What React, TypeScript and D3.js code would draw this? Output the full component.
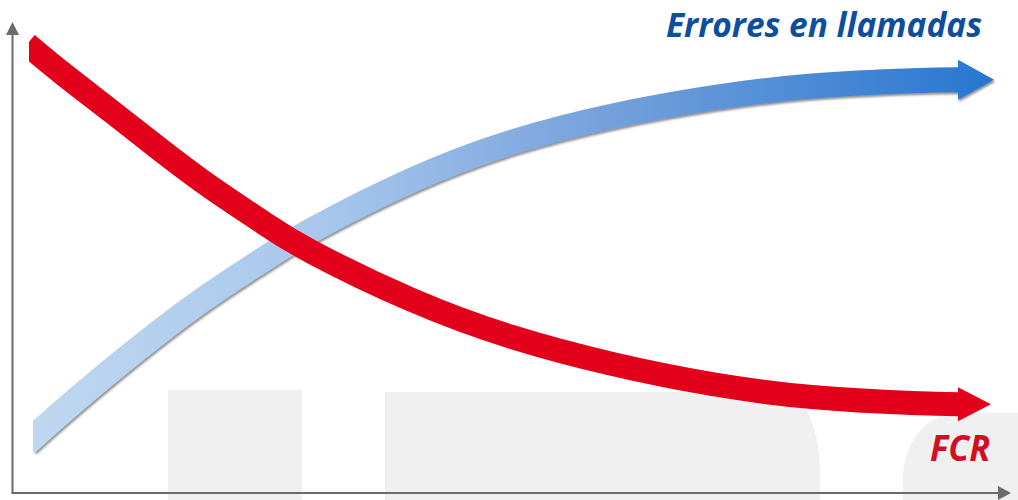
import * as d3 from "d3";

// time axis samples (0..100) and the two trends (0..100)
const steps = [1.5, 5, 10, 15, 20, 25, 30, 40, 50, 60, 70, 80, 90, 94.7];
const fcrValues = [93.5, 87.5, 79.4, 71.25, 63.5, 56.5, 50.2, 40.2, 32.5, 26.9, 22.7, 20.0, 18.75, 18.5];
const errorValues = [10.4, 16.9, 25.7, 34.0, 41.6, 48.5, 54.8, 65.2, 73.1, 78.5, 82.3, 84.8, 85.9, 86.1];
const seriesLabels = ["Errores en llamadas", "FCR"];

const W = 1018, H = 500;

export default function App() {
    const x = d3.scaleLinear().domain([0, 100]).range([12, 1012]);
    const y = d3.scaleLinear().domain([0, 100]).range([493, 13]);

    const line = d3.line<number>()
        .x((d, i) => x(steps[i]))
        .y(d => y(d))
        .curve(d3.curveNatural);

    // arrow heads sit at the last sample of each series
    const head = (vals: number[], len: number, half: number) => {
        const bx = x(steps[steps.length - 1]);
        const by = y(vals[vals.length - 1]);
        return `M${bx - 1},${by - half} L${bx + len},${by} L${bx - 1},${by + half} Z`;
    };

    const axisColor = "#6b6b6b";
    const redColor = "#e2001a";

    return (
        <svg width={W} height={H} style={{ position: "absolute", left: 0, top: 0 }}
             fontFamily="'Open Sans', sans-serif">
            <defs>
                <linearGradient id="blueGrad" gradientUnits="userSpaceOnUse" x1={33} y1={0} x2={995} y2={0}>
                    <stop offset="0" stopColor="#bfd7f0" />
                    <stop offset="0.3" stopColor="#a9c7ec" />
                    <stop offset="0.6" stopColor="#74a0db" />
                    <stop offset="1" stopColor="#2776d0" />
                </linearGradient>
                <filter id="shadow" x="-5%" y="-5%" width="110%" height="120%">
                    <feDropShadow dx="1.2" dy="2" stdDeviation="0.8" floodColor="#444" floodOpacity="0.6" />
                </filter>
                <clipPath id="clipRed"><rect x={29} y={0} width={W} height={H} /></clipPath>
                <clipPath id="clipBlue"><rect x={33} y={0} width={W} height={H} /></clipPath>
            </defs>

            {/* faint watermark blocks */}
            <g fill="#f0f0f0">
                <rect x={168} y={390} width={134} height={110} />
                <path d="M385,392 H785 A38 80 0 0 1 820 470 V500 H385 Z" />
                <path d="M903,500 V478 A55 65 0 0 1 958 413 H1018 V500 Z" />
            </g>

            {/* axes */}
            <line x1={12.5} y1={34} x2={12.5} y2={493} stroke={axisColor} strokeWidth={2} />
            <path d="M6,35 L12.5,22 L19,35 Z" fill={axisColor} />
            <line x1={11.5} y1={493} x2={999} y2={493} stroke={axisColor} strokeWidth={2} />
            <path d="M998,486 L1011,493 L998,500 Z" fill={axisColor} />

            {/* rising trend */}
            <g filter="url(#shadow)">
                <path d={line(errorValues) ?? ""} fill="none" stroke="url(#blueGrad)" strokeWidth={25}
                      clipPath="url(#clipBlue)" />
                <path d={head(errorValues, 35, 20)} fill="url(#blueGrad)" />
            </g>

            {/* falling trend */}
            <g>
                <path d={line(fcrValues) ?? ""} fill="none" stroke={redColor} strokeWidth={24}
                      clipPath="url(#clipRed)" />
                <path d={head(fcrValues, 32, 17)} fill={redColor} />
            </g>

            <text x={666} y={37} fontSize={34} fontWeight={700} fontStyle="italic" fill="#0d4f9e"
                  textLength={316} lengthAdjust="spacingAndGlyphs">{seriesLabels[0]}</text>
            <text x={930} y={461} fontSize={35} fontWeight={700} fontStyle="italic" fill="#d30d22"
                  textLength={60} lengthAdjust="spacingAndGlyphs">{seriesLabels[1]}</text>
        </svg>
    );
}
